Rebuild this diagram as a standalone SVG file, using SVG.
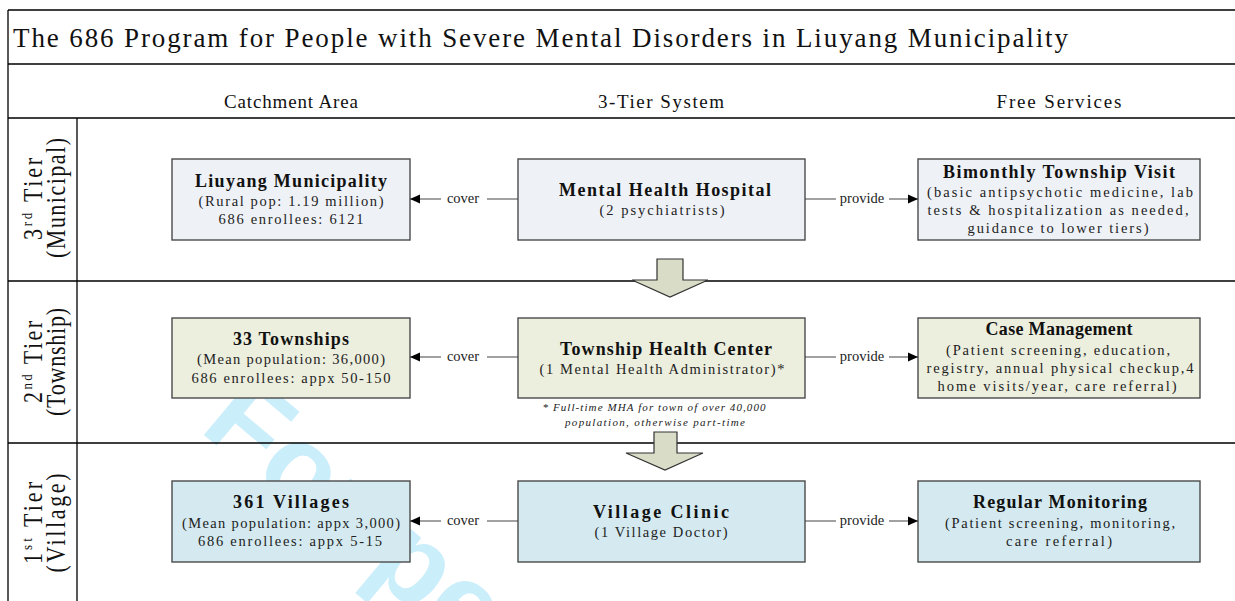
<svg xmlns="http://www.w3.org/2000/svg" width="1235" height="601" viewBox="0 0 1235 601">
  <defs>
    <style>
      text { font-family: "Liberation Serif", "Times New Roman", serif; fill: #111; }
      .title { font-size: 27px; }
      .head { font-size: 19px; text-anchor: middle; }
      .tier { font-size: 22px; text-anchor: middle; }
      .sup { font-size: 13px; }
      .bt { font-size: 18px; font-weight: bold; text-anchor: middle; }
      .st { font-size: 14.5px; text-anchor: middle; fill: #222; }
      .lab { font-size: 14.5px; text-anchor: middle; fill: #222; }
      .note { font-size: 11px; font-style: italic; text-anchor: middle; fill: #222; }
      .mark { font-family: "Liberation Sans", Arial, sans-serif; font-size: 115px; font-weight: bold; fill: #CBEEFB; }
      .frame { stroke: #000; stroke-width: 1.3; fill: none; }
      .box { stroke: #4a4a4a; stroke-width: 1.4; }
      .r1 { fill: #EEF1F6; }
      .r2 { fill: #ECEEDE; }
      .r3 { fill: #D4EAF0; }
      .link { stroke: #444; stroke-width: 1.2; fill: none; }
      .down { fill: #D9DCC6; stroke: #333; stroke-width: 1.2; }
    </style>
    <marker id="tip" viewBox="0 0 10 10" refX="10" refY="5" markerWidth="10" markerHeight="10" markerUnits="userSpaceOnUse" orient="auto">
      <path d="M0,0.5 L10,5 L0,9.5 z" fill="#000"/>
    </marker>
  </defs>

  <rect width="1235" height="601" fill="#fff"/>

  <!-- page watermark, sits behind the chart -->
  <text class="mark" transform="translate(198,430) rotate(40)">For peer review only</text>

  <!-- table frame -->
  <g id="frame">
    <path class="frame" d="M8,10 H1235 M8,10 V601 M8,64 H1235 M8,118 H1235 M77,118 V601 M8,281 H1235 M8,443 H1235"/>
    <text class="title" x="13" y="47" textLength="1055" lengthAdjust="spacing">The 686 Program for People with Severe Mental Disorders in Liuyang Municipality</text>
    <text class="head" x="291" y="108" textLength="134" lengthAdjust="spacing">Catchment Area</text>
    <text class="head" x="661" y="108" textLength="126" lengthAdjust="spacing">3-Tier System</text>
    <text class="head" x="1059" y="108" textLength="125" lengthAdjust="spacing">Free Services</text>
  </g>

  <!-- tier labels (vertical, glyphs stretched across the baseline) -->
  <g id="tier3">
    <text class="tier" transform="translate(42,199) rotate(-90) scale(1,1.2)" textLength="82" lengthAdjust="spacing">3<tspan class="sup" dy="-8">rd</tspan><tspan dy="8"> Tier</tspan></text>
    <text class="tier" transform="translate(65,198) rotate(-90) scale(1,1.2)" textLength="120" lengthAdjust="spacing">(Municipal)</text>
  </g>
  <g id="tier2">
    <text class="tier" transform="translate(42,362) rotate(-90) scale(1,1.2)" textLength="82" lengthAdjust="spacing">2<tspan class="sup" dy="-8">nd</tspan><tspan dy="8"> Tier</tspan></text>
    <text class="tier" transform="translate(65,362) rotate(-90) scale(1,1.2)" textLength="108" lengthAdjust="spacing">(Township)</text>
  </g>
  <g id="tier1">
    <text class="tier" transform="translate(42,523) rotate(-90) scale(1,1.2)" textLength="82" lengthAdjust="spacing">1<tspan class="sup" dy="-8">st</tspan><tspan dy="8"> Tier</tspan></text>
    <text class="tier" transform="translate(65,523) rotate(-90) scale(1,1.2)" textLength="99" lengthAdjust="spacing">(Village)</text>
  </g>

  <!-- 3rd tier -->
  <g id="liuyang">
    <rect class="box r1" x="172" y="159" width="238" height="81"/>
    <text class="bt" x="291" y="187" textLength="192" lengthAdjust="spacing">Liuyang Municipality</text>
    <text class="st" x="291" y="206" textLength="185" lengthAdjust="spacing">(Rural pop: 1.19 million)</text>
    <text class="st" x="291" y="224" textLength="145" lengthAdjust="spacing">686 enrollees: 6121</text>
  </g>
  <g id="hospital">
    <rect class="box r1" x="518" y="159" width="287" height="81"/>
    <text class="bt" x="665" y="196" textLength="212" lengthAdjust="spacing">Mental Health Hospital</text>
    <text class="st" x="662" y="215" textLength="125" lengthAdjust="spacing">(2 psychiatrists)</text>
  </g>
  <g id="bimonthly">
    <rect class="box r1" x="918" y="159" width="282" height="81"/>
    <text class="bt" x="1059" y="178" textLength="232" lengthAdjust="spacing">Bimonthly Township Visit</text>
    <text class="st" x="1060" y="197" textLength="266" lengthAdjust="spacing">(basic antipsychotic medicine,  lab</text>
    <text class="st" x="1058" y="215" textLength="261" lengthAdjust="spacing">tests &amp; hospitalization as needed,</text>
    <text class="st" x="1058" y="233" textLength="181" lengthAdjust="spacing">guidance to lower tiers)</text>
  </g>

  <!-- 2nd tier -->
  <g id="townships">
    <rect class="box r2" x="172" y="318" width="238" height="80"/>
    <text class="bt" x="291" y="345" textLength="116" lengthAdjust="spacing">33 Townships</text>
    <text class="st" x="291" y="364" textLength="188" lengthAdjust="spacing">(Mean population: 36,000)</text>
    <text class="st" x="291" y="383" textLength="199" lengthAdjust="spacing">686 enrollees: appx 50-150</text>
  </g>
  <g id="health-center">
    <rect class="box r2" x="518" y="318" width="287" height="80"/>
    <text class="bt" x="666" y="355" textLength="212" lengthAdjust="spacing">Township Health Center</text>
    <text class="st" x="662" y="374" textLength="245" lengthAdjust="spacing">(1 Mental Health Administrator)*</text>
    <text class="note" x="654" y="411" textLength="223" lengthAdjust="spacing">* Full-time MHA for town of over 40,000</text>
    <text class="note" x="655" y="426" textLength="180" lengthAdjust="spacing">population, otherwise part-time</text>
  </g>
  <g id="case-management">
    <rect class="box r2" x="918" y="318" width="282" height="80"/>
    <text class="bt" x="1059" y="335" textLength="147" lengthAdjust="spacing">Case Management</text>
    <text class="st" x="1058" y="355" textLength="224" lengthAdjust="spacing">(Patient screening, education,</text>
    <text class="st" x="1060" y="373" textLength="267" lengthAdjust="spacing">registry, annual physical checkup,4</text>
    <text class="st" x="1057" y="391" textLength="239" lengthAdjust="spacing">home visits/year, care referral)</text>
  </g>

  <!-- 1st tier -->
  <g id="villages">
    <rect class="box r3" x="172" y="481" width="238" height="81"/>
    <text class="bt" x="291" y="508" textLength="116" lengthAdjust="spacing">361 Villages</text>
    <text class="st" x="291" y="528" textLength="218" lengthAdjust="spacing">(Mean population: appx 3,000)</text>
    <text class="st" x="290" y="546" textLength="184" lengthAdjust="spacing">686 enrollees: appx 5-15</text>
  </g>
  <g id="village-clinic">
    <rect class="box r3" x="518" y="481" width="287" height="81"/>
    <text class="bt" x="661" y="518" textLength="136" lengthAdjust="spacing">Village Clinic</text>
    <text class="st" x="661" y="537" textLength="133" lengthAdjust="spacing">(1 Village Doctor)</text>
  </g>
  <g id="monitoring">
    <rect class="box r3" x="918" y="481" width="282" height="81"/>
    <text class="bt" x="1060" y="508" textLength="174" lengthAdjust="spacing">Regular Monitoring</text>
    <text class="st" x="1060" y="528" textLength="230" lengthAdjust="spacing">(Patient screening, monitoring,</text>
    <text class="st" x="1059" y="546" textLength="106" lengthAdjust="spacing">care referral)</text>
  </g>

  <!-- connectors -->
  <g id="connectors">
    <path class="link" d="M518,199 H487 M441,199 H410" marker-end="url(#tip)"/>
    <text class="lab" x="463" y="203">cover</text>
    <path class="link" d="M805,199 H836 M889,199 H918" marker-end="url(#tip)"/>
    <text class="lab" x="862" y="203">provide</text>

    <path class="link" d="M518,357 H487 M441,357 H410" marker-end="url(#tip)"/>
    <text class="lab" x="463" y="361">cover</text>
    <path class="link" d="M805,357 H836 M889,357 H918" marker-end="url(#tip)"/>
    <text class="lab" x="862" y="361">provide</text>

    <path class="link" d="M518,521 H487 M441,521 H410" marker-end="url(#tip)"/>
    <text class="lab" x="463" y="525">cover</text>
    <path class="link" d="M805,521 H836 M889,521 H918" marker-end="url(#tip)"/>
    <text class="lab" x="862" y="525">provide</text>

    <polygon class="down" points="657,259 683,259 683,280 708,280 670,297 632,280 657,280"/>
    <polygon class="down" points="654,432 677,432 677,453 703,453 665,470 626,453 654,453"/>
  </g>
</svg>
